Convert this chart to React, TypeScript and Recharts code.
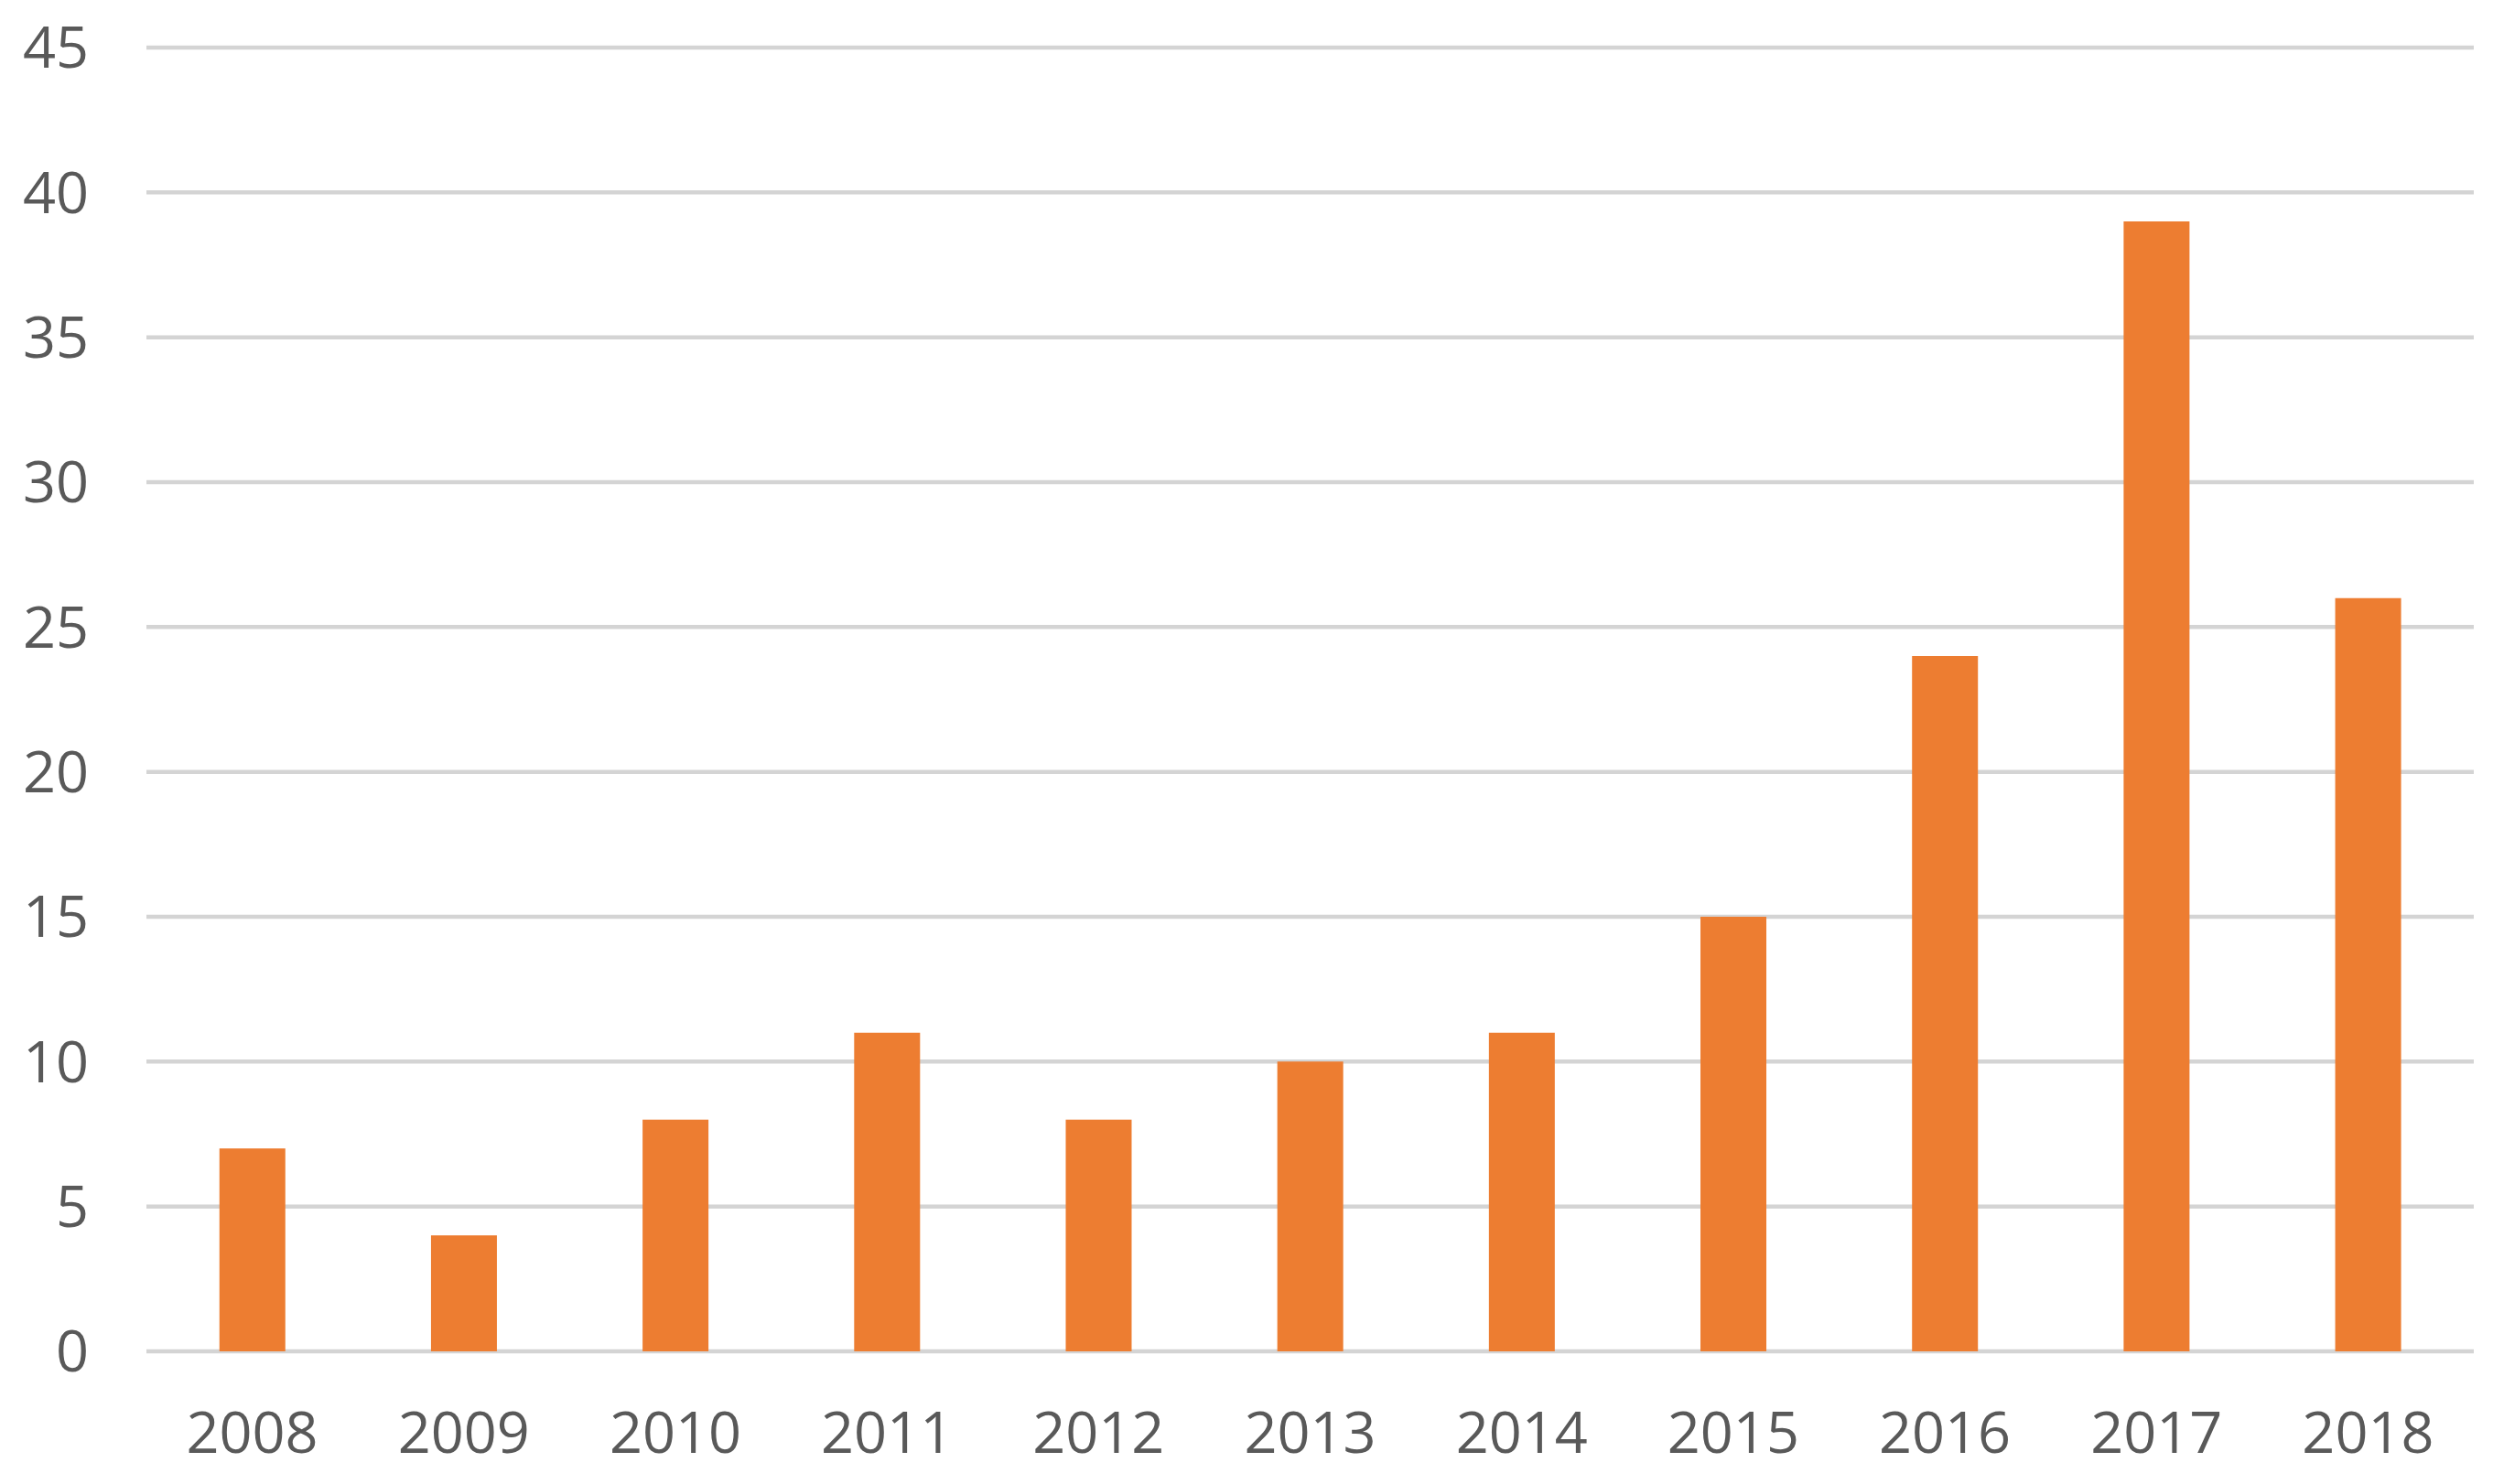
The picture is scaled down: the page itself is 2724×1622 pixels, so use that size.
import { BarChart, Bar, XAxis, YAxis, CartesianGrid } from "recharts";

/* ─── values ─── */
const years = ["2008", "2009", "2010", "2011", "2012", "2013", "2014", "2015", "2016", "2017", "2018"];
const counts = [7, 4, 8, 11, 8, 10, 11, 15, 24, 39, 26];
const yTicks = [0, 5, 10, 15, 20, 25, 30, 35, 40, 45];

const data = years.map((year, i) => ({ year, count: counts[i] }));

const FONT = "'Open Sans', 'Noto Sans', sans-serif";
const tick = { fontSize: 63, fill: "#595959", fontFamily: FONT };

export default function App() {
  return (
    <div style={{ width: 2724, height: 1622, background: "#fff" }}>
      <style>{`body{margin:0}`}</style>
      <BarChart
        width={2724}
        height={1622}
        data={data}
        margin={{ top: 52, right: 21, left: 0, bottom: 0 }}
        barCategoryGap="34.5%"
      >
        <CartesianGrid vertical={false} stroke="#d4d4d4" strokeWidth={4.5} />
        <XAxis
          dataKey="year"
          height={145}
          axisLine={false}
          tickLine={false}
          tickMargin={60}
          tick={tick}
          interval={0}
        />
        <YAxis
          width={160}
          domain={[0, 45]}
          ticks={yTicks}
          axisLine={false}
          tickLine={false}
          tickMargin={57}
          tick={tick}
        />
        <Bar dataKey="count" fill="#ED7D31" isAnimationActive={false} />
      </BarChart>
    </div>
  );
}
